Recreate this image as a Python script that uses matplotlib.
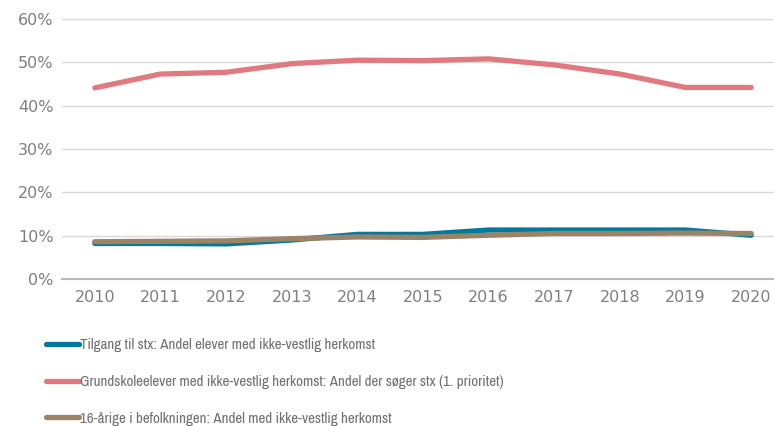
import matplotlib.pyplot as plt
from matplotlib import font_manager
from matplotlib.ticker import PercentFormatter

years = [2010, 2011, 2012, 2013, 2014, 2015, 2016, 2017, 2018, 2019, 2020]
tilgang = [8.2, 8.2, 8.1, 9.0, 10.3, 10.3, 11.3, 11.3, 11.3, 11.3, 10.1]
grundskole = [44.1, 47.3, 47.7, 49.7, 50.5, 50.4, 50.8, 49.4, 47.3, 44.2, 44.2]
aarige16 = [8.6, 8.7, 8.8, 9.3, 9.7, 9.6, 10.1, 10.5, 10.5, 10.6, 10.5]

labels = [
    "Tilgang til stx: Andel elever med ikke-vestlig herkomst",
    "Grundskoleelever med ikke-vestlig herkomst: Andel der søger stx (1. prioritet)",
    "16-årige i befolkningen: Andel med ikke-vestlig herkomst",
]
colors = ["#00799a", "#e07a80", "#9b8368"]

# legend uses a narrow face if one is installed
names = {f.name for f in font_manager.fontManager.ttflist}
if "Archivo Narrow" in names:
    leg_prop = {"family": ["Archivo Narrow", "DejaVu Sans"], "size": 10.8}
else:
    leg_prop = {"family": ["Liberation Sans", "DejaVu Sans"], "size": 9.5}

fig = plt.figure(figsize=(7.74, 4.26), dpi=100)
ax = fig.add_axes([62 / 774, 1 - 279 / 426, (784 - 62) / 774, (279 - 19) / 426])

lines = []
for vals, c, lab in zip([tilgang, grundskole, aarige16], colors, labels):
    l, = ax.plot(years, vals, color=c, lw=3.8, solid_capstyle="round",
                 solid_joinstyle="round", label=lab)
    lines.append(l)
lines[2].set_zorder(3)

ax.set_xlim(2009.5, 2020.5)
ax.set_ylim(0, 60)
ax.set_yticks(range(0, 61, 10))
ax.set_xticks(years)
ax.yaxis.set_major_formatter(PercentFormatter(decimals=0))
ax.grid(axis="y", color="#d9d9d9", lw=1)
ax.set_axisbelow(True)
for s in ["top", "right", "left"]:
    ax.spines[s].set_visible(False)
ax.spines["bottom"].set_color("#b8b8bf")
ax.spines["bottom"].set_linewidth(1.5)
ax.tick_params(length=0, labelsize=11.5, colors="#7f7f7f", pad=8)
ax.tick_params(axis="y", pad=6)

leg = fig.legend(handles=lines, loc="upper left", bbox_to_anchor=(32 / 774, 1 - 325 / 426),
                 frameon=False, handlelength=2.2, handletextpad=0.1, labelspacing=1.5,
                 prop=leg_prop)
for t in leg.get_texts():
    t.set_color("#707070")

fig.savefig("out.png", dpi=100)
